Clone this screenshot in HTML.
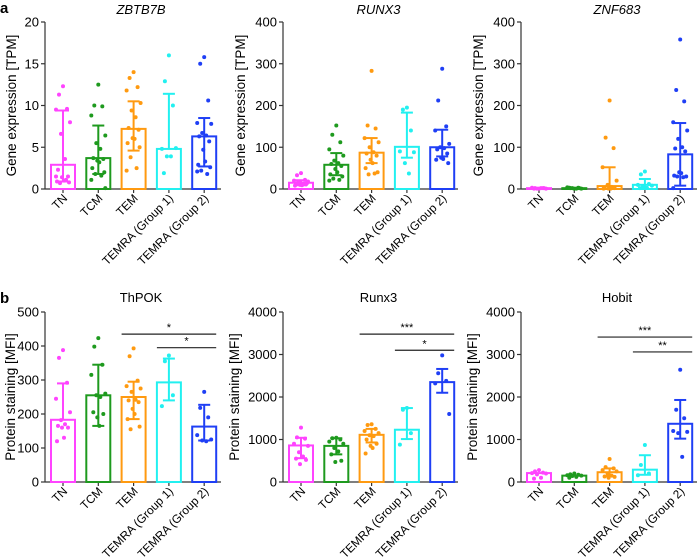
<!DOCTYPE html>
<html><head><meta charset="utf-8">
<style>
html,body{margin:0;padding:0;background:#fff;}
svg{display:block;font-family:"Liberation Sans",Arial,sans-serif;}
</style></head>
<body>
<svg id="fig" width="699" height="558" viewBox="0 0 699 558">
<text x="0" y="13" font-size="15" font-weight="bold">a</text>
<text x="0" y="303" font-size="15" font-weight="bold">b</text>
</svg>
<script>
const categories = ["TN","TCM","TEM","TEMRA (Group 1)","TEMRA (Group 2)"];
const colors = ["#ff44ff","#1e9a1e","#ff9a10","#22f0f0","#1f3ff5"];

// Panel a1 ZBTB7B
const a1Ticks = [0,5,10,15,20];
const a1Mean = [2.9,3.7,7.2,4.8,6.3];
const a1Lo = [0.9,1.8,4.6,null,2.7];
const a1Hi = [9.4,7.6,10.5,11.4,8.5];
const a1Pts = [[12.3,11.3,9.6,9.5,8,6.6,3.6,2.3,1.5,1.4,1.0,0.9,0.8,0.7,1.1,1.5],
 [12.5,10,9.9,8.8,6.4,5.5,4.8,3.7,3.6,3.4,3.2,2.5,2.0,1.8,1.6,1.1,0.1],
 [14,13.3,12.2,11.8,10.3,9.4,8.6,7.3,7.1,6.1,6,5.5,5,3.8,2.5,2.2],
 [16,12.9,10,4.8,4.9,3.9,3.9,1.9],
 [15.8,15,10.6,7.9,7.8,6.7,6.4,6.3,5.7,4.7,3.3,2.9,2.6,2.2,1.8,2.1]];
// Panel a2 RUNX3
const a2Ticks = [0,100,200,300,400];
const a2Mean = [15,58,87,101,100];
const a2Lo = [9,33,62,75,78];
const a2Hi = [21,86,122,183,142];
const a2Pts = [[38,33,22,20,18,15,13,12,11,10,9,8,14,16],
 [152,130,112,95,80,68,62,60,55,48,40,35,30,25,22,20],
 [283,152,145,122,112,100,88,85,80,70,62,50,40,35,37],
 [195,190,140,90,88,62,37],
 [288,212,150,140,108,100,98,95,85,75,72,70,62]];
// Panel a3 ZNF683
const a3Ticks = [0,100,200,300,400];
const a3Mean = [2,2,7,10,83];
const a3Lo = [null,null,0,0,8];
const a3Hi = [null,null,52,24,158];
const a3Pts = [[1,2,2,3,1,1,2,1,2],
 [1,2,3,4,1,2,1,3,2],
 [212,123,98,52,20,10,5,3,2,1,1,1],
 [42,35,12,10,8,5,3,2],
 [358,237,210,160,140,120,100,97,90,40,38,32,30,30,28,2]];
// Panel b1 ThPOK
const b1Ticks = [0,100,200,300,400,500];
const b1Mean = [183,255,250,293,163];
const b1Lo = [null,165,185,240,122];
const b1Hi = [290,345,295,363,227];
const b1Pts = [[388,365,292,245,205,182,170,165,160,160,130,120],
 [423,398,345,315,260,255,250,205,200,190,165],
 [393,370,298,282,275,265,242,240,235,215,200,185,163,155],
 [372,355,255,223],
 [265,218,190,138,125,122,120]];
const b1Sig = [{from:2,to:4,y:435,label:"*"},{from:3,to:4,y:395,label:"*"}];
// Panel b2 Runx3
const b2Ticks = [0,1000,2000,3000,4000];
const b2Mean = [860,850,1110,1230,2350];
const b2Lo = [560,650,930,1010,2100];
const b2Hi = [1040,1030,1250,1740,2660];
const b2Pts = [[1280,1050,1020,900,850,700,600,550,520,420],
 [1040,1030,1000,950,900,800,720,650,500,470],
 [1360,1340,1250,1200,1150,1100,1080,1000,900,850,800,670],
 [1740,1700,1150,880],
 [2980,2560,2380,2320,1600]];
const b2Sig = [{from:2,to:4,y:3480,label:"***"},{from:3,to:4,y:3100,label:"*"}];
// Panel b3 Hobit
const b3Ticks = [0,1000,2000,3000,4000];
const b3Mean = [210,150,230,290,1370];
const b3Lo = [null,null,140,170,1020];
const b3Hi = [null,null,320,630,1930];
const b3Pts = [[280,250,220,210,200,180,100,80],
 [200,180,170,160,150,140,120,100],
 [540,350,320,280,250,200,150,130,120,100],
 [870,400,200,160],
 [2640,1700,1500,1200,1180,1150,590]];
const b3Sig = [{from:2,to:4,y:3410,label:"***"},{from:3,to:4,y:3060,label:"**"}];

const NS="http://www.w3.org/2000/svg";
const svg=document.getElementById('fig');
function mk(tag,attrs,parent){const e=document.createElementNS(NS,tag);for(const k in attrs)e.setAttribute(k,attrs[k]);(parent||svg).appendChild(e);return e;}
const jit=[0,-4,4,-7,7,-2,2,-5,5,-1,1,-6,6,-3,3,-7,7];

function panel(o){
  const g=mk('g',{});
  
  
  const ymax=o.ticks[o.ticks.length-1];
  const y=v=>o.y0-(v/ymax)*(o.y0-o.yTop);
  const x=i=>o.ax+18+i*35.3;
  const t=mk('text',{x:(o.ax+o.axEnd)/2+8,y:o.titleY,'font-size':13,'text-anchor':'middle','font-style':o.italic?'italic':'normal'},g);
  t.textContent=o.title;
  
  
  const yt=mk('text',{x:0,y:0,'font-size':13.5,'text-anchor':'middle',transform:`translate(${o.ytX},${(o.y0+o.yTop)/2}) rotate(-90)`},g);
  yt.textContent=o.ytitle;
  
  
  const yl=mk('line',{x1:o.ax,x2:o.ax,y1:o.yTop,y2:o.y0,stroke:'#333','stroke-width':1.2},g);
  
  
  o.ticks.forEach(v=>{
    mk('line',{x1:o.ax-4,x2:o.ax,y1:y(v),y2:y(v),stroke:'#333','stroke-width':1.2},g);
    const tl=mk('text',{x:o.ax-6,y:y(v)+4.5,'font-size':13,'text-anchor':'end'},g);
    tl.textContent=v;
    
    
  });
  const xl=mk('line',{x1:o.ax,x2:o.axEnd,y1:o.y0,y2:o.y0,stroke:'#333','stroke-width':1.2},g);
  
  
  categories.forEach((c,i)=>{
    const cx=x(i),col=colors[i];
    mk('line',{x1:cx,x2:cx,y1:o.y0,y2:o.y0+4,stroke:'#333','stroke-width':1.2},g);
    const lab=mk('text',{x:0,y:0,'font-size':11.8,'text-anchor':'end',transform:`translate(${cx+5},${o.y0+10}) rotate(-45)`},g);
    lab.textContent=c;
    
    
    const by=y(o.mean[i]);
    const bar=mk('rect',{x:cx-12,y:by,width:24,height:Math.max(o.y0-by,0.5),fill:'#fff',stroke:col,'stroke-width':2},g);
    
    
    if(o.hi[i]!=null){
      const lo=o.lo[i]!=null?o.lo[i]:o.mean[i];
      const eb=mk('line',{x1:cx,x2:cx,y1:y(o.hi[i]),y2:y(lo),stroke:col,'stroke-width':2},g);
      
      
      mk('line',{x1:cx-6,x2:cx+6,y1:y(o.hi[i]),y2:y(o.hi[i]),stroke:col,'stroke-width':2},g);
      if(o.lo[i]!=null) mk('line',{x1:cx-6,x2:cx+6,y1:y(o.lo[i]),y2:y(o.lo[i]),stroke:col,'stroke-width':2},g);
    }
    o.pts[i].forEach((v,k)=>{
      const p=mk('circle',{cx:cx+jit[k%jit.length],cy:y(v),r:2,fill:col},g);
      
      
    });
  });
  (o.sig||[]).forEach(s=>{
    const sy=y(s.y);
    const l=mk('line',{x1:x(s.from)-12,x2:x(s.to)+12,y1:sy,y2:sy,stroke:'#222','stroke-width':1.2},g);
    
    
    const st=mk('text',{x:(x(s.from)+x(s.to))/2,y:sy-3,'font-size':11,'text-anchor':'middle'},g);
    st.textContent=s.label;
    
    
  });
}
const ga="Gene expression [TPM]", gb="Protein staining [MFI]";
panel({name:'zbtb7b',title:'ZBTB7B',italic:true,ax:45,axEnd:221,y0:189,yTop:22,titleY:14,ytX:16,ytitle:ga,ticks:a1Ticks,mean:a1Mean,lo:a1Lo,hi:a1Hi,pts:a1Pts});
panel({name:'runx3-gene',title:'RUNX3',italic:true,ax:283,axEnd:458,y0:189,yTop:22,titleY:14,ytX:245,ytitle:ga,ticks:a2Ticks,mean:a2Mean,lo:a2Lo,hi:a2Hi,pts:a2Pts});
panel({name:'znf683',title:'ZNF683',italic:true,ax:521,axEnd:697,y0:189,yTop:22,titleY:14,ytX:483,ytitle:ga,ticks:a3Ticks,mean:a3Mean,lo:a3Lo,hi:a3Hi,pts:a3Pts});
panel({name:'thpok',title:'ThPOK',italic:false,ax:45,axEnd:221,y0:482,yTop:312,titleY:302,ytX:15,ytitle:gb,ticks:b1Ticks,mean:b1Mean,lo:b1Lo,hi:b1Hi,pts:b1Pts,sig:b1Sig});
panel({name:'runx3-protein',title:'Runx3',italic:false,ax:283,axEnd:458,y0:482,yTop:312,titleY:302,ytX:239,ytitle:gb,ticks:b2Ticks,mean:b2Mean,lo:b2Lo,hi:b2Hi,pts:b2Pts,sig:b2Sig});
panel({name:'hobit',title:'Hobit',italic:false,ax:521,axEnd:697,y0:482,yTop:312,titleY:302,ytX:477,ytitle:gb,ticks:b3Ticks,mean:b3Mean,lo:b3Lo,hi:b3Hi,pts:b3Pts,sig:b3Sig});
</script>
</body></html>
